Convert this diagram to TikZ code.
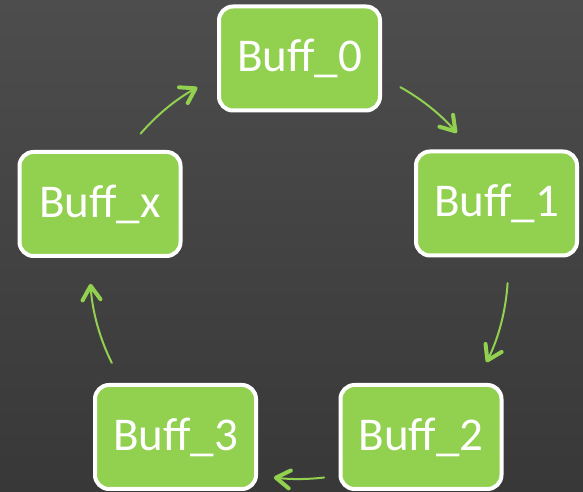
\documentclass[tikz,border=0pt]{standalone}
\usepackage{fontspec}
\setmainfont{Carlito}
\usetikzlibrary{arrows.meta}
\definecolor{bgtop}{HTML}{4D4D4D}
\definecolor{bgmid}{HTML}{474747}
\definecolor{bgbot}{HTML}{383838}
\definecolor{leaf}{HTML}{92D050}

\begin{document}
\begin{tikzpicture}[x=1pt,y=1pt,
  buff/.style={draw=white, line width=4pt, fill=leaf, rounded corners=14pt,
    minimum width=161pt, minimum height=104pt, inner sep=0pt, text=white,
    font=\fontsize{47}{47}\selectfont},
  flow/.style={draw=leaf, line width=2pt, line cap=round,
    -{Straight Barb[length=14pt,width=18pt,line width=4pt,round]}}]
  % background
  \shade[top color=bgtop, middle color=bgmid, bottom color=bgbot]
    (0,0) rectangle (583,492);
  \useasboundingbox (0,0) rectangle (583,492);

  % ring of buffers
  \coordinate (c) at (299,222);
  \node[buff] (b0) at (299.5,433.5) {Buff\_0};
  \node[buff] (b1) at (496.5,288.5) {Buff\_1};
  \node[buff] (b2) at (421,55) {Buff\_2};
  \node[buff] (b3) at (175.5,55) {Buff\_3};
  \node[buff] (bx) at (100,288) {Buff\_x};

  % arcs between neighbours, on the circle through the buffers
  \draw[flow] (c) ++(61:209) arc[start angle=61, end angle=41, radius=209];
  \draw[flow] (c) ++(-3.6:209) arc[start angle=-3.6, end angle=-26.2, radius=209];
  \draw[flow] (c) ++(-83.1:209) arc[start angle=-83.1, end angle=-96.9, radius=209];
  \draw[flow] (c) ++(206.4:209) arc[start angle=206.4, end angle=183.8, radius=209];
  \draw[flow] (c) ++(139.3:209) arc[start angle=139.3, end angle=119.1, radius=209];
\end{tikzpicture}
\end{document}
